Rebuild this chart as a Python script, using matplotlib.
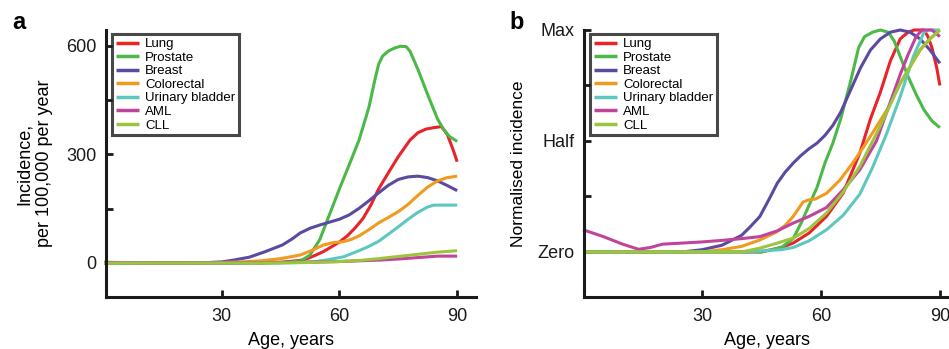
import matplotlib
matplotlib.use("Agg")
import matplotlib.pyplot as plt

plt.rcParams['font.family'] = ['Liberation Sans', 'DejaVu Sans']

# ---------------- data ----------------
series_names = ["Lung", "Prostate", "Breast", "Colorectal", "Urinary bladder", "AML", "CLL"]
series_colors = ["#e8232a", "#4cb848", "#5b4aa0", "#f09a1f", "#5ec7bf", "#c0449c", "#9bc53d"]

# Panel a: incidence per 100,000 per year
lung_age_a = [0, 30, 40, 45, 50, 52, 54, 56, 58, 60, 62, 64, 66, 68, 70, 72.5, 75, 78, 80, 82, 84, 86, 87.5, 89, 90]
lung_a = [0, 0, 0.5, 2, 7, 13, 22, 32, 45, 58, 75, 97, 123, 160, 205, 250, 294, 340, 360, 370, 374, 377, 355, 312, 280]

prostate_age_a = [0, 40, 45, 50, 52.5, 55, 57.5, 60, 62.5, 65, 67.5, 69, 70, 71, 72.5, 74, 75.5, 77, 78, 80, 82.5, 85, 86.5, 88, 90]
prostate_a = [0, 0, 1, 5, 22, 65, 135, 205, 272, 340, 430, 505, 550, 572, 586, 594, 599, 598, 585, 535, 465, 398, 370, 350, 336]

breast_age_a = [0, 25, 30, 33, 37, 41, 45.5, 48, 50, 52.5, 55, 57.5, 60, 62.5, 65, 67.5, 70, 72.5, 75, 77.5, 80, 82.5, 85, 87.5, 90]
breast_a = [0, 0.5, 3, 8, 16, 31, 50, 67, 83, 96, 105, 113, 121, 133, 151, 172, 194, 215, 231, 238, 240, 236, 227, 214, 200]

colorectal_age_a = [0, 25, 30, 35, 40, 45, 50, 53, 56, 58.3, 61, 63, 65, 67.5, 70, 72.5, 75, 77.5, 80, 82.5, 85, 87.5, 90]
colorectal_a = [0, 0.5, 1.5, 3, 6, 12, 22, 35, 50, 56, 59, 65, 75, 92, 111, 126, 142, 162, 187, 210, 227, 236, 240]

bladder_age_a = [0, 45, 50, 54, 57, 61, 65, 67.5, 70, 72.5, 75, 77.5, 80, 82.5, 84, 87.5, 90]
bladder_a = [0, 0, 1.5, 4, 9, 17, 34, 46, 60, 80, 100, 121, 140, 155, 160, 160, 160]

aml_age_a = [0, 5, 10, 15, 20, 30, 40, 50, 55, 60, 65, 70, 75, 80, 85, 90]
aml_a = [2, 1.2, 0.6, 0.3, 0.5, 0.8, 1.2, 2, 3, 4, 6, 8, 11, 15, 19, 19]

cll_age_a = [0, 40, 45, 50, 55, 60, 65, 70, 75, 80, 85, 90]
cll_a = [0, 0, 0.3, 1, 2, 4, 7, 12, 18, 24, 30, 34]

# Panel b: normalised incidence (0 = zero, 1 = max)
lung_age_b = [0, 45, 50, 53, 57, 61.4, 65.6, 69.8, 72.5, 75, 77.5, 80, 82, 83.5, 86, 87, 88, 89.2, 90]
lung_b = [0, 0, 0.02, 0.04, 0.085, 0.16, 0.265, 0.445, 0.6, 0.72, 0.86, 0.96, 0.99, 1.0, 1.0, 0.97, 0.92, 0.83, 0.75]

prostate_age_b = [0, 45, 50, 53, 55, 57, 59, 61, 63, 65, 67.5, 69.5, 71, 73, 75, 77, 78.5, 80, 82, 84, 86, 88, 90]
prostate_b = [0, 0, 0.02, 0.06, 0.13, 0.21, 0.29, 0.40, 0.49, 0.6, 0.77, 0.92, 0.97, 0.99, 1.0, 0.99, 0.95, 0.88, 0.79, 0.71, 0.64, 0.59, 0.56]

breast_age_b = [0, 25, 30, 35, 40, 42, 44.6, 47, 49, 51, 53, 55, 57, 59, 61, 63, 65, 67.5, 70, 72.5, 75, 77.5, 80, 82.5, 85, 87.5, 90]
breast_b = [0, 0, 0.01, 0.03, 0.075, 0.11, 0.16, 0.24, 0.31, 0.36, 0.40, 0.435, 0.465, 0.49, 0.525, 0.57, 0.63, 0.73, 0.83, 0.91, 0.96, 0.99, 1.0, 0.99, 0.96, 0.91, 0.85]

colorectal_age_b = [0, 30, 35, 40, 44.6, 48.8, 51, 53, 55.5, 57, 58.5, 61.4, 64.8, 68, 71, 74, 77, 80, 85, 87.5, 90]
colorectal_b = [0, 0, 0.01, 0.025, 0.054, 0.09, 0.12, 0.16, 0.225, 0.235, 0.238, 0.264, 0.324, 0.40, 0.48, 0.564, 0.65, 0.76, 0.91, 0.96, 1.0]

bladder_age_b = [0, 40, 45, 50, 53, 57, 61.4, 65.6, 69.8, 73, 76.5, 80, 83.3, 86, 87, 90]
bladder_b = [0, 0, 0.005, 0.01, 0.02, 0.05, 0.1, 0.165, 0.26, 0.38, 0.53, 0.7, 0.88, 0.99, 1.0, 1.0]

aml_age_b = [0, 5, 10, 14, 17, 20, 25, 30, 35, 40, 44.6, 49, 53, 57, 61.4, 65.6, 69.8, 74, 76, 78, 80, 82, 84, 85.5, 88, 90]
aml_b = [0.1, 0.07, 0.035, 0.012, 0.02, 0.035, 0.04, 0.045, 0.052, 0.06, 0.069, 0.095, 0.13, 0.16, 0.2, 0.28, 0.37, 0.5, 0.6, 0.7, 0.8, 0.89, 0.97, 1.0, 1.0, 0.97]

cll_age_b = [0, 40, 44.6, 49, 53, 57, 61.4, 65.6, 69.8, 74.9, 80, 85, 87.5, 90]
cll_b = [0, 0, 0.017, 0.04, 0.062, 0.105, 0.175, 0.27, 0.385, 0.565, 0.76, 0.91, 0.96, 1.0]

ages_a = [lung_age_a, prostate_age_a, breast_age_a, colorectal_age_a, bladder_age_a, aml_age_a, cll_age_a]
vals_a = [lung_a, prostate_a, breast_a, colorectal_a, bladder_a, aml_a, cll_a]
ages_b = [lung_age_b, prostate_age_b, breast_age_b, colorectal_age_b, bladder_age_b, aml_age_b, cll_age_b]
vals_b = [lung_b, prostate_b, breast_b, colorectal_b, bladder_b, aml_b, cll_b]

x_ticks = [30, 60, 90]
a_yticks = [0, 150, 300, 450, 600]
a_ylabels = ["0", "", "300", "", "600"]
b_yticks = [0, 0.25, 0.5, 0.75, 1.0]
b_ylabels = ["Zero", "", "Half", "", "Max"]

# ---------------- figure ----------------
W, H = 949, 349
fig = plt.figure(figsize=(W / 100, H / 100), dpi=100)

def px_rect(x0, y0, x1, y1):
    return [x0 / W, 1 - y1 / H, (x1 - x0) / W, (y1 - y0) / H]

ax_a = fig.add_axes(px_rect(106, 30, 476, 297))
ax_b = fig.add_axes(px_rect(584, 30, 949, 297))

def style(ax):
    for s in ("top", "right"):
        ax.spines[s].set_visible(False)
    for s in ("left", "bottom"):
        ax.spines[s].set_linewidth(2.2)
        ax.spines[s].set_color("#1a1a1a")
    ax.tick_params(direction="in", length=5, width=2, labelsize=13, colors="#1a1a1a")
    ax.tick_params(axis="y", pad=7)
    ax.tick_params(axis="x", pad=8)
    ax.set_xticks(x_ticks)
    ax.set_xticklabels([str(t) for t in x_ticks])
    ax.set_xlabel("Age, years", fontsize=13, labelpad=5)

for ax, ages, vals in ((ax_a, ages_a, vals_a), (ax_b, ages_b, vals_b)):
    for name, col, x, y in zip(series_names, series_colors, ages, vals):
        ax.plot(x, y, color=col, lw=2.2, label=name, clip_on=False,
                solid_joinstyle="round", solid_capstyle="butt")
    style(ax)

ax_a.set_xlim(0.5, 94.8)
ax_a.set_ylim(-94, 644)
ax_a.set_yticks(a_yticks)
ax_a.set_yticklabels(a_ylabels)
ax_a.set_ylabel("Incidence,\nper 100,000 per year", fontsize=13, labelpad=9, linespacing=1.3)

ax_b.set_xlim(0.25, 92.3)
ax_b.set_ylim(-0.203, 1.0)
ax_b.set_yticks(b_yticks)
ax_b.set_yticklabels(b_ylabels)
ax_b.set_ylabel("Normalised incidence", fontsize=12.5, labelpad=8)

def add_legend(ax, x0, y0):
    leg = ax.legend(loc="upper left", bbox_to_anchor=(x0 / W, 1 - y0 / H),
                    bbox_transform=fig.transFigure, fontsize=9.5, frameon=True,
                    fancybox=False, borderpad=0.3, labelspacing=0.1,
                    handlelength=1.75, handletextpad=0.45, borderaxespad=0)
    fr = leg.get_frame()
    fr.set_edgecolor("#1a1a1a")
    fr.set_linewidth(2.2)
    for ln in leg.get_lines():
        ln.set_linewidth(2.5)

add_legend(ax_a, 112, 34)
add_legend(ax_b, 590, 34)

fig.text(12 / W, 1 - 29 / H, "a", fontsize=17, fontweight="bold", ha="left", va="baseline")
fig.text(509 / W, 1 - 29 / H, "b", fontsize=17, fontweight="bold", ha="left", va="baseline")

fig.savefig("out.png", dpi=100)
